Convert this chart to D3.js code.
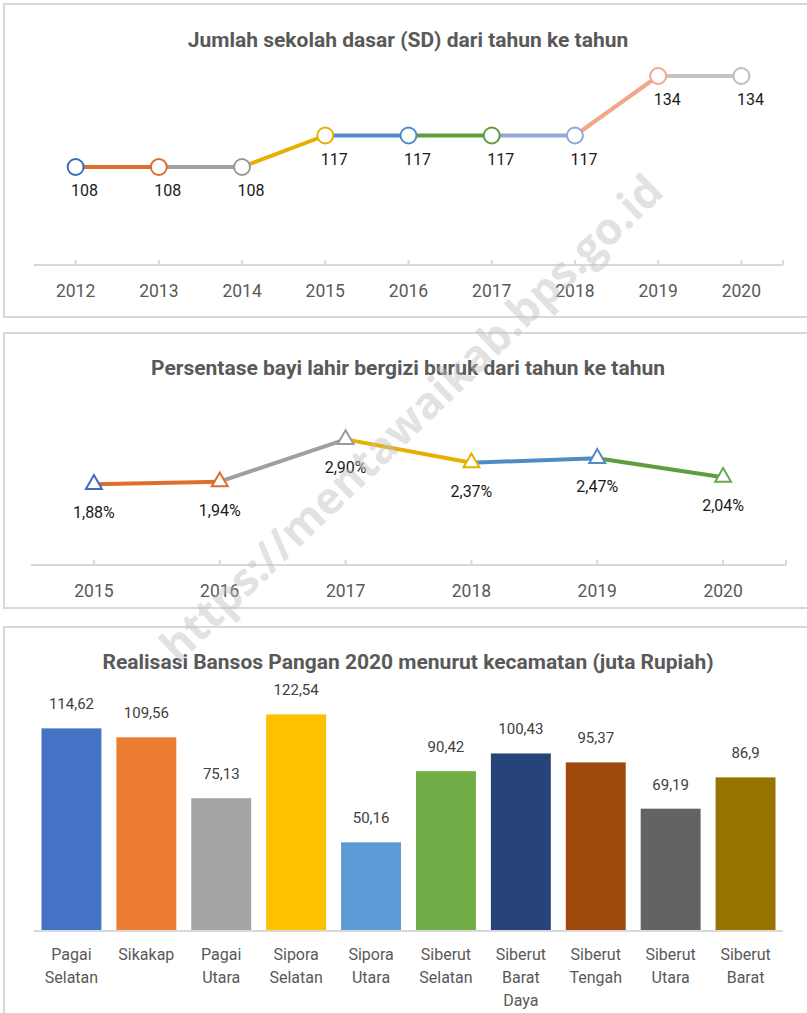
<!DOCTYPE html>
<html>
<head>
<meta charset="utf-8">
<script src="https://cdn.jsdelivr.net/npm/d3@7.9.0/dist/d3.min.js"></script>
<style>
  html, body { margin: 0; padding: 0; background: #fff; }
  svg { display: block; font-family: Roboto, "Open Sans", sans-serif; }
  .panel { fill: #fff; stroke: #d9d9d9; stroke-width: 2; }
  .title { font-size: 21px; font-weight: bold; fill: #595959; text-anchor: middle; }
  .tick-label { font-size: 17.5px; fill: #595959; text-anchor: middle; }
  .data-label { font-size: 16px; fill: #1a1a1a; text-anchor: middle; }
  .bar-label { font-size: 15px; fill: #404040; text-anchor: middle; }
  .cat-label { font-size: 16px; fill: #595959; text-anchor: middle; }
  .axis-line { stroke: #d9d9d9; stroke-width: 2; }
</style>
</head>
<body>
<svg width="807" height="1013"></svg>
<script>
// chart 1: jumlah SD
const sdYears = [2012, 2013, 2014, 2015, 2016, 2017, 2018, 2019, 2020];
const sdValues = [108, 108, 108, 117, 117, 117, 117, 134, 134];

// chart 2: bayi gizi buruk (%)
const giziYears = [2015, 2016, 2017, 2018, 2019, 2020];
const giziValues = [1.88, 1.94, 2.90, 2.37, 2.47, 2.04];

// chart 3: bansos pangan 2020
const kecamatan = [
  ['Pagai', 'Selatan'], ['Sikakap'], ['Pagai', 'Utara'], ['Sipora', 'Selatan'],
  ['Sipora', 'Utara'], ['Siberut', 'Selatan'], ['Siberut', 'Barat', 'Daya'],
  ['Siberut', 'Tengah'], ['Siberut', 'Utara'], ['Siberut', 'Barat']
];
const bansos = [114.62, 109.56, 75.13, 122.54, 50.16, 90.42, 100.43, 95.37, 69.19, 86.9];

// colours (Excel palette)
const sdLineColors = ['#DD6E2E', '#A0A0A0', '#E6B000', '#4F8CC6', '#5E9E3C', '#93A7DA', '#F2A78A', '#C4C4C4'];
const sdMarkColors = ['#3F6BBF', '#DD6E2E', '#9A9A9A', '#E6B000', '#4F8CC6', '#5E9E3C', '#93A7DA', '#F2A78A', '#BDBDBD'];
const giziLineColors = ['#DD6E2E', '#A0A0A0', '#E6B000', '#4F8CC6', '#5E9E3C'];
const giziMarkColors = ['#3F6BBF', '#DD6E2E', '#9A9A9A', '#E6B000', '#4F8CC6', '#6AA84F'];
const barColors = ['#4472C4', '#ED7D31', '#A5A5A5', '#FFC000', '#5B9BD5', '#70AD47', '#264478', '#9E480E', '#636363', '#997300'];

const fmt = v => String(v).replace('.', ',');
const fmt2 = v => v.toFixed(2).replace('.', ',') + '%';

const svg = d3.select('svg');

// panel boxes
svg.append('rect').attr('class', 'panel').attr('x', 4).attr('y', 4).attr('width', 820).attr('height', 313);
svg.append('rect').attr('class', 'panel').attr('x', 4).attr('y', 333).attr('width', 820).attr('height', 275);
svg.append('rect').attr('class', 'panel').attr('x', 4).attr('y', 627).attr('width', 820).attr('height', 420);

// draws a segmented line chart with per-point marker colours
function lineChart(g, years, values, opts) {
  const x = d3.scaleBand().domain(years).range(opts.xRange);
  const cx = d => x(d) + x.bandwidth() / 2;
  const y = d3.scaleLinear().domain(opts.yDomain).range(opts.yRange);

  g.append('text').attr('class', 'title')
    .attr('x', 408).attr('y', opts.titleY).text(opts.title);

  g.append('line').attr('class', 'axis-line')
    .attr('x1', opts.xRange[0]).attr('x2', opts.xRange[1])
    .attr('y1', opts.axisY).attr('y2', opts.axisY);

  const tickXs = years.map(cx).concat([opts.xRange[1]]);
  g.selectAll('.tk').data(tickXs).join('line')
    .attr('class', 'axis-line')
    .attr('x1', d => d).attr('x2', d => d)
    .attr('y1', opts.axisY - 5).attr('y2', opts.axisY);

  g.selectAll('.tick-label').data(years).join('text')
    .attr('class', 'tick-label')
    .attr('x', cx).attr('y', opts.axisY + 32)
    .text(d => d);

  const pts = years.map((d, i) => [cx(d), y(values[i])]);
  d3.pairs(pts).forEach((p, i) => {
    g.append('path')
      .attr('d', d3.line()(p))
      .attr('stroke', opts.lineColors[i])
      .attr('stroke-width', 4)
      .attr('stroke-linecap', 'round')
      .attr('fill', 'none');
  });

  g.selectAll('.mark').data(pts).join('path')
    .attr('d', d3.symbol().type(opts.symbol).size(opts.symbolSize))
    .attr('transform', d => `translate(${d[0]},${d[1]})`)
    .attr('fill', '#fff')
    .attr('stroke', (d, i) => opts.markColors[i])
    .attr('stroke-width', 2);

  g.selectAll('.data-label').data(pts).join('text')
    .attr('class', 'data-label')
    .attr('x', d => d[0] + opts.labelDx)
    .attr('y', d => d[1] + opts.labelDy)
    .text((d, i) => opts.format(values[i]));
}

lineChart(svg.append('g'), sdYears, sdValues, {
  title: 'Jumlah sekolah dasar (SD) dari tahun ke tahun',
  titleY: 47,
  xRange: [34, 783],
  yDomain: [80, 140], yRange: [265, 55],
  axisY: 265,
  lineColors: sdLineColors, markColors: sdMarkColors,
  symbol: d3.symbolCircle, symbolSize: 200,
  labelDx: 9, labelDy: 29,
  format: fmt
});

lineChart(svg.append('g'), giziYears, giziValues, {
  title: 'Persentase bayi lahir bergizi buruk dari tahun ke tahun',
  titleY: 375,
  xRange: [31, 786],
  yDomain: [0, 4], yRange: [567, 391],
  axisY: 565,
  lineColors: giziLineColors, markColors: giziMarkColors,
  symbol: d3.symbolTriangle, symbolSize: 110,
  labelDx: 0, labelDy: 34,
  format: fmt2
});

// bar chart
const gb = svg.append('g');
const xb = d3.scaleBand().domain(d3.range(bansos.length)).range([34, 783])
  .paddingInner(0.2).paddingOuter(0.1);
const yb = d3.scaleLinear().domain([0, 140]).range([931, 683.5]);

gb.append('text').attr('class', 'title')
  .attr('x', 408).attr('y', 669)
  .text('Realisasi Bansos Pangan 2020 menurut kecamatan (juta Rupiah)');

gb.selectAll('rect').data(bansos).join('rect')
  .attr('x', (d, i) => xb(i))
  .attr('y', d => yb(d))
  .attr('width', xb.bandwidth())
  .attr('height', d => yb(0) - yb(d))
  .attr('fill', (d, i) => barColors[i]);

gb.append('line').attr('class', 'axis-line')
  .attr('x1', 34).attr('x2', 783).attr('y1', 931).attr('y2', 931);

gb.selectAll('.bar-label').data(bansos).join('text')
  .attr('class', 'bar-label')
  .attr('x', (d, i) => xb(i) + xb.bandwidth() / 2)
  .attr('y', d => yb(d) - 19)
  .text(fmt);

kecamatan.forEach((lines, i) => {
  const t = gb.append('text').attr('class', 'cat-label')
    .attr('x', xb(i) + xb.bandwidth() / 2).attr('y', 960);
  lines.forEach((s, j) => {
    t.append('tspan').attr('x', xb(i) + xb.bandwidth() / 2)
      .attr('dy', j === 0 ? 0 : 23).text(s);
  });
});

// watermark
svg.append('text')
  .attr('transform', 'translate(410,417) rotate(-44)')
  .attr('text-anchor', 'middle')
  .attr('dominant-baseline', 'central')
  .style('font-family', '"Open Sans", sans-serif')
  .style('font-weight', 'bold')
  .style('font-size', '44px')
  .attr('fill', '#bfbfbf')
  .attr('opacity', 0.45)
  .text('https://mentawaikab.bps.go.id');
</script>
</body>
</html>
